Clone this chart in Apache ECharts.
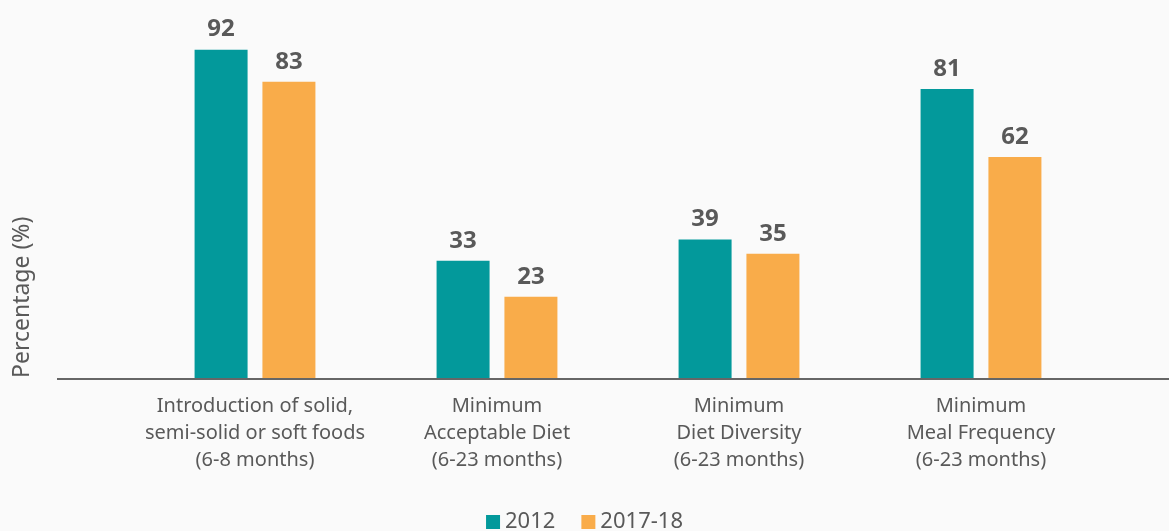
<!DOCTYPE html>
<html>
<head>
<meta charset="utf-8">
<script src="https://cdn.jsdelivr.net/npm/echarts@6/dist/echarts.min.js"></script>
<style>
  html, body { margin: 0; padding: 0; background: #fafafa; }
  #chart { width: 1169px; height: 531px; }
</style>
</head>
<body>
<div id="chart"></div>
<script>
// data
const categories = [
  'Introduction of solid,\nsemi-solid or soft foods\n(6-8 months)',
  'Minimum\nAcceptable Diet\n(6-23 months)',
  'Minimum\nDiet Diversity\n(6-23 months)',
  'Minimum\nMeal Frequency\n(6-23 months)'
];
const values2012 = [92, 33, 39, 81];
const values2017 = [83, 23, 35, 62];
const seriesNames = ['2012', '2017-18'];

const chart = echarts.init(document.getElementById('chart'));
const textColor = '#595959';
const font = 'Noto Sans';

const labelStyle = {
  show: true,
  position: 'top',
  distance: 8,
  color: textColor,
  fontFamily: font,
  fontWeight: 'bold',
  fontSize: 24
};

chart.setOption({
  backgroundColor: '#fafafa',
  animation: false,
  grid: { left: 134, right: 67, top: 21, bottom: 152 },
  legend: {
    bottom: -7,
    left: 'center',
    itemWidth: 14,
    itemHeight: 14,
    itemGap: 26,
    icon: 'rect',
    textStyle: { color: textColor, fontFamily: font, fontSize: 22 },
    data: seriesNames
  },
  xAxis: {
    type: 'category',
    data: categories,
    axisLine: { show: false },
    axisTick: { show: false },
    axisLabel: {
      color: textColor,
      fontFamily: font,
      fontSize: 20,
      lineHeight: 27,
      margin: 14,
      interval: 0
    }
  },
  yAxis: {
    type: 'value',
    min: 0,
    max: 100,
    show: false
  },
  graphic: [
    {
      type: 'line',
      shape: { x1: 57, y1: 379, x2: 1169, y2: 379 },
      style: { stroke: '#666', lineWidth: 2 },
      z: 10
    },
    {
      type: 'text',
      x: 22,
      y: 378,
      rotation: Math.PI / 2,
      style: {
        text: 'Percentage (%)',
        fill: textColor,
        font: '23px "Noto Sans"',
        textAlign: 'left',
        textVerticalAlign: 'middle'
      }
    }
  ],
  series: [
    {
      name: seriesNames[0],
      type: 'bar',
      data: values2012,
      barWidth: 53,
      barGap: '28%',
      itemStyle: { color: '#03999b' },
      label: labelStyle
    },
    {
      name: seriesNames[1],
      type: 'bar',
      data: values2017,
      barWidth: 53,
      itemStyle: { color: '#f9ac4a' },
      label: labelStyle
    }
  ]
});
</script>
</body>
</html>
